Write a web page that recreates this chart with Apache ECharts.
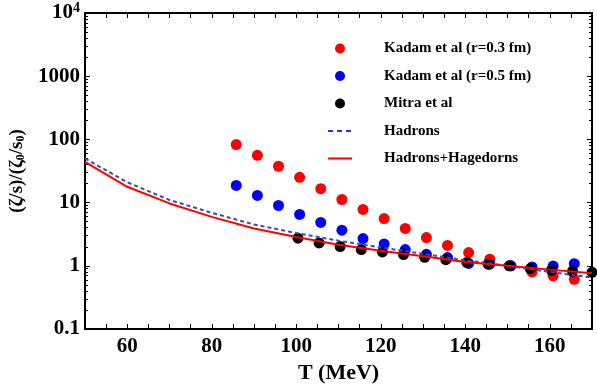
<!DOCTYPE html>
<html>
<head>
<meta charset="utf-8">
<script src="https://cdn.jsdelivr.net/npm/echarts@6/dist/echarts.min.js"></script>
<style>
  html, body { margin: 0; padding: 0; background: #fff; }
  #chart { width: 597px; height: 390px; }
</style>
</head>
<body>
<div id="chart"></div>
<script>
// 数据
const kadamT = [85.8, 90.8, 95.8, 100.8, 105.8, 110.8, 115.8, 120.8, 125.8, 130.8, 135.8, 140.8, 145.8, 150.8, 155.8, 160.8, 165.8];
const kadam03 = [82.7, 56.1, 37.6, 25.1, 16.6, 11.2, 7.8, 5.6, 3.9, 2.8, 2.1, 1.62, 1.27, 1.0, 0.8, 0.69, 0.61];
const kadam05 = [18.7, 13.0, 9.0, 6.5, 4.85, 3.66, 2.7, 2.22, 1.81, 1.52, 1.35, 1.09, 1.06, 1.0, 0.96, 0.99, 1.08];
const mitraT = [100.4, 105.4, 110.4, 115.4, 120.4, 125.4, 130.4, 135.4, 140.4, 145.4, 150.4, 155.4, 160.4, 165.4, 170];
const mitra = [2.73, 2.3, 2.02, 1.81, 1.66, 1.51, 1.36, 1.25, 1.13, 1.06, 1.0, 0.9, 0.85, 0.82, 0.79];
const lineT = [50, 60, 70, 80, 90, 100, 110, 120, 130, 140, 150, 160, 170];
const hadrons = [50, 21, 11, 6.9, 4.5, 3.3, 2.5, 1.95, 1.55, 1.22, 1.0, 0.8, 0.65];
const hagedorn = [44, 17.8, 9.7, 5.95, 3.9, 2.86, 2.15, 1.73, 1.42, 1.15, 1.0, 0.87, 0.76];

const names = ['Kadam et al (r=0.3 fm)', 'Kadam et al (r=0.5 fm)', 'Mitra et al', 'Hadrons', 'Hadrons+Hagedorns'];

const zip = (xs, ys) => xs.map((x, i) => [x, ys[i]]);

const font = 'Liberation Serif';
const tickStyle = { show: true, inside: true, length: 5, lineStyle: { color: '#000', width: 1 } };
const minorStyle = { show: true, length: 3, lineStyle: { color: '#000', width: 1 } };

const chart = echarts.init(document.getElementById('chart'));

const option = {
  animation: false,
  grid: { left: 83, right: 5, top: 13, bottom: 61 },
  legend: {
    data: [
      names[0], names[1], names[2],
      // 线条图例不显示中间的圆点
      { name: names[3], itemStyle: { opacity: 0 }, lineStyle: { color: '#2a2aff', width: 2, type: [5, 4] } },
      { name: names[4], itemStyle: { opacity: 0 } }
    ],
    orient: 'vertical',
    left: 322,
    top: 36,
    itemWidth: 24,
    itemHeight: 10,
    itemGap: 12.5,
    textStyle: {
      fontFamily: font, fontWeight: 'bold', fontSize: 15, color: '#000',
      padding: [0, 0, 0, 27]
    }
  },
  xAxis: [{
    type: 'value', min: 50, max: 170, interval: 5,
    name: 'T (MeV)', nameLocation: 'middle', nameGap: 33,
    nameTextStyle: { fontFamily: font, fontWeight: 'bold', fontSize: 22, color: '#000' },
    axisLine: { lineStyle: { color: '#000', width: 2 } },
    axisTick: tickStyle,
    splitLine: { show: false },
    axisLabel: {
      margin: 7, fontFamily: font, fontWeight: 'bold', fontSize: 21, color: '#000',
      formatter: v => (v % 20 === 0 && v > 50 && v < 170) ? String(v) : ''
    }
  }, {
    type: 'value', min: 50, max: 170, interval: 5, position: 'top',
    axisLine: { show: true, lineStyle: { color: '#000', width: 2 } },
    axisTick: tickStyle, axisLabel: { show: false }, splitLine: { show: false }
  }],
  yAxis: [{
    type: 'log', logBase: 10, min: 0.1, max: 10000,
    name: '(ζ/s)/(ζ{sub|0}/s{sub|0})', nameLocation: 'middle', nameGap: 58,
    nameTextStyle: {
      fontFamily: font, fontWeight: 'bold', fontSize: 19, color: '#000',
      rich: { sub: { fontFamily: font, fontWeight: 'bold', fontSize: 12, verticalAlign: 'bottom', padding: [7, 0, 0, 0] } }
    },
    axisLine: { show: true, lineStyle: { color: '#000', width: 2 } },
    axisTick: tickStyle,
    minorTick: Object.assign({ splitNumber: 9 }, minorStyle),
    splitLine: { show: false },
    axisLabel: {
      margin: 5, fontFamily: font, fontWeight: 'bold', fontSize: 21, color: '#000',
      formatter: v => {
        if (v < 0.5) return '0.1';
        if (v > 5000) return '10{sup|4}';
        return String(Math.round(v));
      },
      rich: { sup: { fontFamily: font, fontWeight: 'bold', fontSize: 14, padding: [0, 0, 10, 0] } }
    }
  }, {
    type: 'log', logBase: 10, min: 0.1, max: 10000, position: 'right',
    axisLine: { show: true, lineStyle: { color: '#000', width: 2 } },
    axisTick: tickStyle,
    minorTick: Object.assign({ splitNumber: 9 }, minorStyle),
    axisLabel: { show: false }, splitLine: { show: false }
  }],
  series: [
    { name: names[0], type: 'scatter', symbolSize: 11, itemStyle: { color: '#ff0000', opacity: 1 }, data: zip(kadamT, kadam03) },
    { name: names[1], type: 'scatter', symbolSize: 11, itemStyle: { color: '#0000ff', opacity: 1 }, data: zip(kadamT, kadam05) },
    { name: names[2], type: 'scatter', symbolSize: 11, itemStyle: { color: '#000000', opacity: 1 }, data: zip(mitraT, mitra) },
    {
      name: names[3], type: 'line', showSymbol: false, symbol: 'none',
      itemStyle: { color: '#4646b4' },
      lineStyle: { color: '#4646b4', width: 2, type: [4, 3] },
      data: zip(lineT, hadrons)
    },
    {
      name: names[4], type: 'line', showSymbol: false, symbol: 'none',
      itemStyle: { color: '#ff0000' },
      lineStyle: { color: '#ff0000', width: 2 },
      data: zip(lineT, hagedorn)
    }
  ]
};

chart.setOption(option);
</script>
</body>
</html>
